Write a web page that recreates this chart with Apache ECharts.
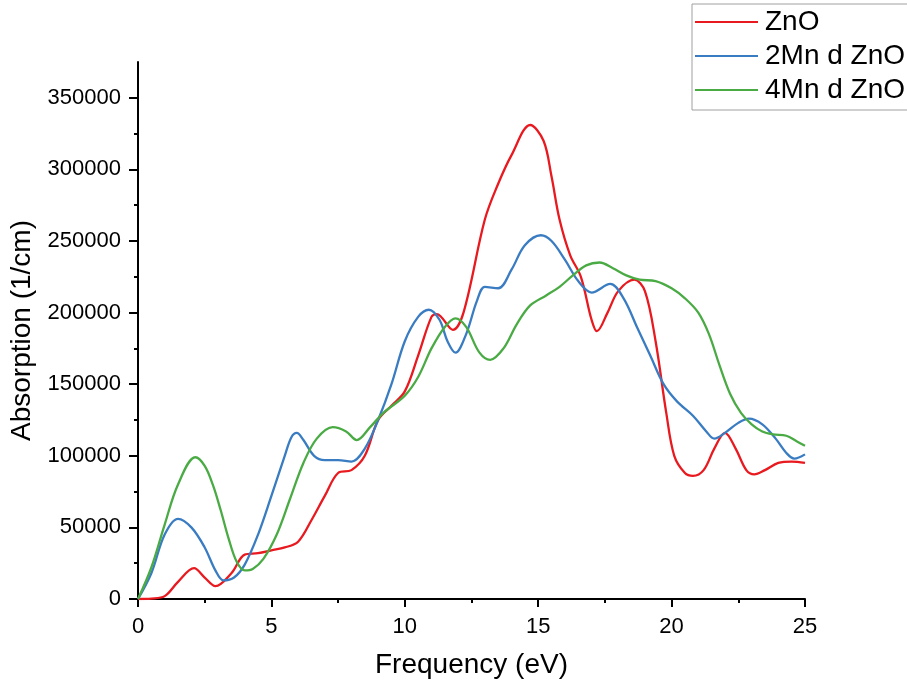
<!DOCTYPE html>
<html>
<head>
<meta charset="utf-8">
<script src="https://cdn.jsdelivr.net/npm/echarts@6/dist/echarts.min.js"></script>
<style>html,body{margin:0;padding:0;background:#fff;}#c{width:907px;height:687px;}</style>
</head>
<body>
<div id="c"></div>
<script>
const seriesNames = ['ZnO', '2Mn d ZnO', '4Mn d ZnO'];
const xTicks = [0, 5, 10, 15, 20, 25];
const yTicks = [0, 50000, 100000, 150000, 200000, 250000, 300000, 350000];

const znoX = [0,0.5,1,1.5,2.1,2.5,2.9,3.5,4,4.5,5,5.5,6,6.5,7,7.5,8,8.5,9,9.5,10,10.5,11,11.2,11.8,12.2,13,13.5,14,14.7,15.2,15.5,15.8,16.2,16.6,17,17.2,17.6,18,18.6,19,19.4,19.8,20.1,20.5,20.8,21.2,21.6,22,22.4,22.8,23.1,23.5,24,24.5,25];
const znoY = [0,300,2000,12000,21500,15000,9000,18000,31000,32000,34000,36000,40000,55000,72000,88000,90000,100000,125000,135000,145000,170000,197000,199000,188000,200000,265000,290000,310000,331000,320000,295000,265000,240000,225000,195000,187000,200000,215000,223000,215000,180000,130000,100000,88000,86000,90000,105000,116000,105000,90000,87000,90000,95000,96000,95000];

const mn2X = [0,0.5,1,1.5,2,2.5,2.9,3.2,3.6,4,4.5,5,5.5,5.75,5.95,6.2,6.6,7,7.5,8,8.5,9,9.5,10,10.5,10.9,11.3,11.6,11.9,12.3,12.7,13,13.5,14,14.5,15.1,15.5,16,16.5,17,17.7,18.2,18.7,19.2,19.7,20.2,20.8,21.3,21.6,22,22.5,22.9,23.4,23.9,24.3,24.6,25];
const mn2Y = [0,18000,45000,56000,50000,36000,20000,13000,15000,24000,45000,72000,100000,113000,116000,111000,100000,97000,97000,96000,105000,125000,150000,180000,197000,202000,195000,180000,172000,185000,208000,218000,217000,230000,247000,254000,250000,237000,222000,214000,220000,210000,190000,170000,150000,138000,128000,117000,112000,116000,123000,126000,122000,112000,102000,98000,101000];

const mn4X = [0,0.5,1,1.5,2.15,2.5,2.8,3.1,3.4,3.7,4,4.3,4.7,5.2,5.7,6.2,6.7,7.3,7.8,8.2,8.7,9.2,10,10.5,11,11.5,11.9,12.3,12.8,13.2,13.7,14.2,14.7,15.3,15.8,16.3,16.8,17.3,17.8,18.3,18.8,19.4,20,20.5,21,21.4,21.8,22.2,22.6,23,23.4,23.8,24.3,24.7,25];
const mn4Y = [0,22000,52000,80000,99000,93000,80000,62000,42000,26000,20000,21000,28000,45000,70000,95000,112000,120000,117000,111000,120000,130000,142000,155000,175000,190000,196000,190000,172000,167000,175000,192000,205000,212000,218000,226000,233000,235000,231000,226000,223000,222000,217000,210000,200000,185000,163000,143000,130000,122000,117000,115000,114000,110000,107000];

const colors = ['#e8191f', '#3a7cc2', '#4aab45'];
const zip = (xs, ys) => xs.map((x, i) => [x, ys[i]]);
const dataSets = [zip(znoX, znoY), zip(mn2X, mn2Y), zip(mn4X, mn4Y)];

const chart = echarts.init(document.getElementById('c'), null, {renderer: 'canvas'});
const font = 'Liberation Sans, Arial, sans-serif';
chart.setOption({
  animation: false,
  backgroundColor: '#fff',
  grid: {left: 138, right: 102, top: 62, bottom: 88, containLabel: false},
  legend: {
    orient: 'vertical', left: 692, top: 4,
    data: seriesNames,
    icon: 'rect', itemWidth: 63, itemHeight: 2, itemGap: 6,
    padding: [4, 40, 6, 3],
    borderColor: '#a0a0a0', borderWidth: 1,
    textStyle: {fontFamily: font, fontSize: 28, color: '#000', padding: [0, 0, 0, 2]}
  },
  xAxis: {
    type: 'value', min: 0, max: 25, interval: 5,
    name: 'Frequency (eV)', nameLocation: 'middle', nameGap: 52,
    nameTextStyle: {fontFamily: font, fontSize: 28, color: '#000'},
    axisLine: {show: true, onZero: false, lineStyle: {color: '#000', width: 2}},
    axisTick: {show: true, inside: false, length: 8, lineStyle: {color: '#000', width: 2}, customValues: xTicks},
    minorTick: {show: true, splitNumber: 2, length: 4, lineStyle: {color: '#000', width: 2}},
    axisLabel: {fontFamily: font, fontSize: 22, color: '#000', margin: 17, customValues: xTicks},
    splitLine: {show: false}
  },
  yAxis: {
    type: 'value', min: 0, max: 375000, interval: 50000,
    name: 'Absorption (1/cm)', nameLocation: 'middle', nameGap: 96,
    nameTextStyle: {fontFamily: font, fontSize: 28, color: '#000'},
    axisLine: {show: true, onZero: false, lineStyle: {color: '#000', width: 2}},
    axisTick: {show: true, inside: false, length: 9, lineStyle: {color: '#000', width: 2}, customValues: yTicks},
    minorTick: {show: true, splitNumber: 2, length: 4, lineStyle: {color: '#000', width: 2}},
    axisLabel: {fontFamily: font, fontSize: 22, color: '#000', margin: 17, customValues: yTicks,
      formatter: v => String(v)},
    splitLine: {show: false}
  },
  series: seriesNames.map((n, i) => ({
    name: n, type: 'line', data: dataSets[i], smooth: 0.35,
    showSymbol: false, symbol: 'none',
    lineStyle: {color: colors[i], width: 2.3},
    itemStyle: {color: colors[i]}
  }))
});
</script>
</body>
</html>
